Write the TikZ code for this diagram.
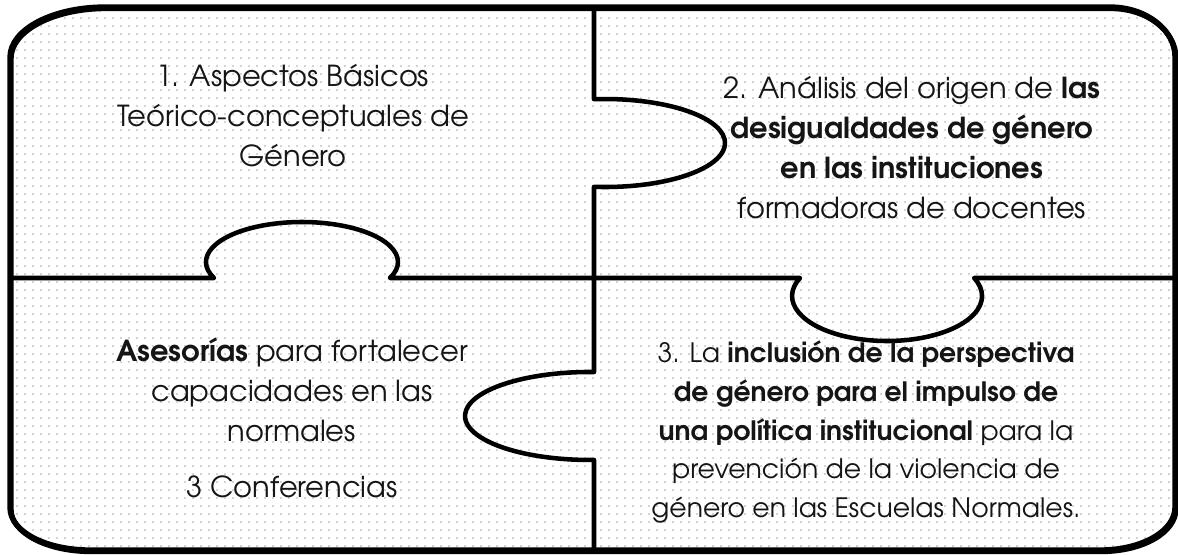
\documentclass[tikz,border=0pt]{standalone}
\usepackage{fontspec}
\setmainfont{texgyreadventor}[Extension=.otf, UprightFont=*-regular, BoldFont=*-bold, ItalicFont=*-italic, BoldItalicFont=*-bolditalic]
\usetikzlibrary{patterns.meta}
\tikzdeclarepattern{
  name=griddots,
  type=uncolored,
  bounding box={(0pt,0pt) and (6pt,6pt)},
  tile size={(6pt,6pt)},
  code={\pgfpathrectangle{\pgfpoint{0pt}{0pt}}{\pgfpoint{1.5pt}{1.5pt}}\pgfusepath{fill}}
}
\definecolor{dotgray}{HTML}{D4D4D4}
\definecolor{txtcol}{HTML}{151515}
\begin{document}
\begin{tikzpicture}[x=0.75pt,y=-0.75pt,
  txt/.style={align=center,font=\fontsize{21.7pt}{30pt}\selectfont,text=txtcol,inner sep=0pt},
  txtsmall/.style={txt,font=\fontsize{20pt}{29.2pt}\selectfont},
  cut/.style={line width=3.4pt,line join=round},
  rim/.style={line width=4pt,line join=round}]
\useasboundingbox (0,0) rectangle (1178,554);
% background fill with dots
\fill[white] (10,57) .. controls (10,29.4) and (52.6,7) .. (105,7)
  -- (1110,7) .. controls (1145.9,7) and (1175,29.4) .. (1175,57)
  -- (1175,507) .. controls (1175,531.3) and (1141.4,550) .. (1100,550)
  -- (90,550) .. controls (45.8,550) and (10,531.2) .. (10,508) -- cycle;
\fill[pattern=griddots,pattern color=dotgray] (10,57) .. controls (10,29.4) and (52.6,7) .. (105,7)
  -- (1110,7) .. controls (1145.9,7) and (1175,29.4) .. (1175,57)
  -- (1175,507) .. controls (1175,531.3) and (1141.4,550) .. (1100,550)
  -- (90,550) .. controls (45.8,550) and (10,531.2) .. (10,508) -- cycle;
% vertical cut
\draw[cut] (594,7) -- (594,99.2)
  arc[start angle=-95.26,end angle=95.26,x radius=120,y radius=44]
  -- (594,372) arc[start angle=-88.17,end angle=-271.83,x radius=125,y radius=44]
  -- (594,550);
% horizontal cut
\draw[cut] (10,278) -- (214,278)
  arc[start angle=156.42,end angle=383.58,x radius=96,y radius=40]
  -- (800,278) arc[start angle=203.58,end angle=-23.58,x radius=95,y radius=45]
  -- (1175,278);
% outer rim with slight shadow
\draw[rim,black] ([shift={(1,1.5)}]10,57) .. controls ([shift={(1,1.5)}]10,29.4) and ([shift={(1,1.5)}]52.6,7) .. ([shift={(1,1.5)}]105,7)
  -- ([shift={(1,1.5)}]1110,7) .. controls ([shift={(1,1.5)}]1145.9,7) and ([shift={(1,1.5)}]1175,29.4) .. ([shift={(1,1.5)}]1175,57)
  -- ([shift={(1,1.5)}]1175,507) .. controls ([shift={(1,1.5)}]1175,531.3) and ([shift={(1,1.5)}]1141.4,550) .. ([shift={(1,1.5)}]1100,550)
  -- ([shift={(1,1.5)}]90,550) .. controls ([shift={(1,1.5)}]45.8,550) and ([shift={(1,1.5)}]10,531.2) .. ([shift={(1,1.5)}]10,508) -- cycle;
\draw[rim] (10,57) .. controls (10,29.4) and (52.6,7) .. (105,7)
  -- (1110,7) .. controls (1145.9,7) and (1175,29.4) .. (1175,57)
  -- (1175,507) .. controls (1175,531.3) and (1141.4,550) .. (1100,550)
  -- (90,550) .. controls (45.8,550) and (10,531.2) .. (10,508) -- cycle;
% texts
\node[txt] (t1) at (293,116) {1. Aspectos Básicos\\Teórico-conceptuales de\\Género};
\node[txt] (t2) at (912,148) {2. Análisis del origen de \textbf{las}\\\textbf{desigualdades de género}\\\textbf{en las instituciones}\\formadoras de docentes};
\node[txt] (t3) at (292,390) {\textbf{Asesorías} para fortalecer\\capacidades en las\\normales};
\node[txt] (t3b) at (292,487) {3 Conferencias};
\node[txtsmall] (t4) at (866,432) {3. La \textbf{inclusión de la perspectiva}\\\textbf{de género para el impulso de}\\\textbf{una política institucional} para la\\prevención de la violencia de\\género en las Escuelas Normales.};
\end{tikzpicture}
\end{document}
